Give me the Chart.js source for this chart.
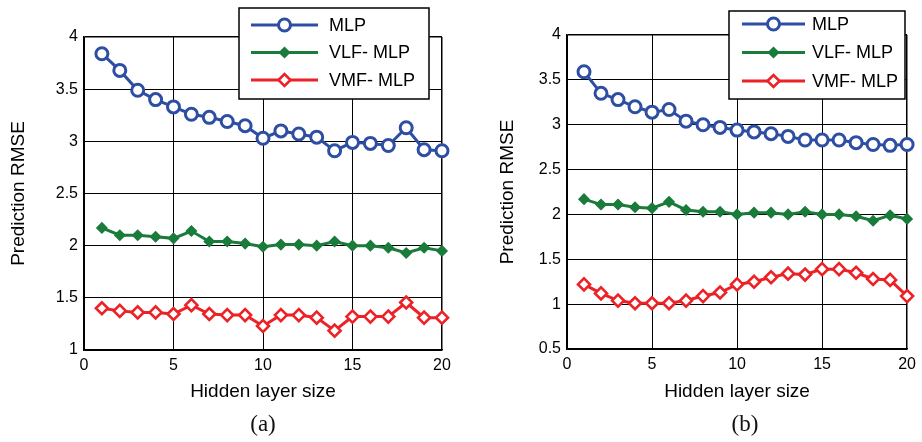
<!DOCTYPE html>
<html>
<head>
<meta charset="utf-8">
<script src="https://cdn.jsdelivr.net/npm/chart.js@4/dist/chart.umd.min.js"></script>
<style>
  body { margin: 0; background: #fff; }
  #wrap { position: relative; width: 922px; height: 442px; }
  canvas { position: absolute; top: 0; }
  .cap { position: absolute; top: 411px; font-family: "Liberation Serif", "Times New Roman", serif; font-size: 23px; transform: translateX(-50%); color: #111; }
</style>
</head>
<body>
<div id="wrap">
  <canvas id="chartA" width="460" height="442" style="left:0"></canvas>
  <canvas id="chartB" width="462" height="442" style="left:460px"></canvas>
  <div class="cap" style="left:263px">(a)</div>
  <div class="cap" style="left:745px">(b)</div>
</div>
<script>
// hidden layer sizes
const sizes = [1, 2, 3, 4, 5, 6, 7, 8, 9, 10, 11, 12, 13, 14, 15, 16, 17, 18, 19, 20];
const seriesNames = ['MLP', 'VLF- MLP', 'VMF- MLP'];

// (a)
const mlpA = [3.84, 3.68, 3.49, 3.40, 3.33, 3.26, 3.23, 3.19, 3.15, 3.03, 3.10, 3.07, 3.04, 2.91, 2.99, 2.98, 2.96, 3.13, 2.92, 2.91];
const vlfA = [2.17, 2.10, 2.10, 2.085, 2.07, 2.14, 2.04, 2.04, 2.02, 1.99, 2.01, 2.01, 2.00, 2.04, 2.00, 2.00, 1.98, 1.93, 1.98, 1.95];
const vmfA = [1.40, 1.375, 1.36, 1.36, 1.345, 1.43, 1.345, 1.335, 1.335, 1.23, 1.335, 1.335, 1.31, 1.185, 1.32, 1.32, 1.32, 1.455, 1.31, 1.31];

// (b)
const mlpB = [3.59, 3.35, 3.28, 3.20, 3.14, 3.17, 3.04, 3.00, 2.97, 2.94, 2.92, 2.90, 2.87, 2.83, 2.83, 2.83, 2.80, 2.78, 2.77, 2.78];
const vlfB = [2.17, 2.11, 2.11, 2.08, 2.07, 2.14, 2.05, 2.03, 2.03, 2.00, 2.02, 2.02, 2.00, 2.03, 2.00, 2.00, 1.98, 1.93, 1.99, 1.95];
const vmfB = [1.22, 1.12, 1.04, 1.01, 1.01, 1.01, 1.04, 1.09, 1.13, 1.22, 1.25, 1.30, 1.34, 1.33, 1.39, 1.39, 1.35, 1.28, 1.27, 1.09];

const blue = '#2d4ea3';
const green = '#1a7b3b';
const red = '#ec2227';
const font = '"Liberation Sans", Arial, Helvetica, sans-serif';

function pts(vals) {
  return sizes.map((s, i) => ({ x: s, y: vals[i] }));
}

function makeSets(mlp, vlf, vmf) {
  return [
    { label: seriesNames[0], data: pts(mlp), borderColor: blue, borderWidth: 3,
      pointStyle: 'circle', pointRadius: 6, pointBorderWidth: 3,
      pointBorderColor: blue, pointBackgroundColor: '#fff' },
    { label: seriesNames[1], data: pts(vlf), borderColor: green, borderWidth: 3,
      pointStyle: 'rectRot', pointRadius: 5, pointBorderWidth: 1.5,
      pointBorderColor: green, pointBackgroundColor: green },
    { label: seriesNames[2], data: pts(vmf), borderColor: red, borderWidth: 3,
      pointStyle: 'rectRot', pointRadius: 6, pointBorderWidth: 2.6,
      pointBorderColor: red, pointBackgroundColor: '#fff' }
  ].map(d => Object.assign(d, { clip: false, tension: 0, fill: false }));
}

// framed legend like the matlab one
const boxLegend = {
  id: 'boxLegend',
  afterDraw(chart, args, o) {
    const ctx = chart.ctx;
    ctx.save();
    ctx.fillStyle = '#fff';
    ctx.fillRect(o.x, o.y, o.w, o.h);
    ctx.strokeStyle = '#000';
    ctx.lineWidth = 1.5;
    ctx.strokeRect(o.x, o.y, o.w, o.h);
    chart.data.datasets.forEach((ds, i) => {
      const y = o.y + o.rowTop + i * o.rowGap;
      ctx.strokeStyle = ds.borderColor;
      ctx.lineWidth = 3;
      ctx.beginPath();
      ctx.moveTo(o.x + o.l0, y);
      ctx.lineTo(o.x + o.l1, y);
      ctx.stroke();
      ctx.fillStyle = ds.pointBackgroundColor;
      ctx.strokeStyle = ds.pointBorderColor;
      ctx.lineWidth = ds.pointBorderWidth;
      Chart.helpers.drawPoint(ctx, { pointStyle: ds.pointStyle, radius: ds.pointRadius, borderWidth: ds.pointBorderWidth, rotation: 0 }, o.x + (o.l0 + o.l1) / 2, y);
      ctx.fillStyle = '#000';
      ctx.font = '18px ' + font;
      ctx.textBaseline = 'middle';
      ctx.fillText(ds.label, o.x + o.tx, y + 1);
    });
    ctx.restore();
  }
};

function makeChart(id, sets, yMin, pad, yWidth, xHeight, yTitlePad, legend) {
  return new Chart(document.getElementById(id), {
    type: 'line',
    data: { datasets: sets },
    plugins: [boxLegend],
    options: {
      responsive: false,
      animation: false,
      layout: { padding: pad },
      plugins: { legend: { display: false }, tooltip: { enabled: false }, boxLegend: legend },
      scales: {
        x: {
          type: 'linear', min: 0, max: 20,
          ticks: { stepSize: 5, color: '#000', font: { family: font, size: 16 }, padding: 6, maxRotation: 0 },
          grid: { color: '#000', lineWidth: c => c.tick && c.tick.value === 20 ? 1.5 : 1, drawTicks: false },
          border: { color: '#000', width: 1.5 },
          title: { display: true, text: 'Hidden layer size', color: '#000', font: { family: font, size: 19 }, padding: { top: 0, bottom: 9 } },
          afterFit: s => { s.height = xHeight; }
        },
        y: {
          min: yMin, max: 4,
          ticks: { stepSize: 0.5, color: '#000', font: { family: font, size: 16 }, padding: 6, callback: v => String(v) },
          grid: { color: '#000', lineWidth: c => c.tick && c.tick.value === 4 ? 1.5 : 1, drawTicks: false },
          border: { color: '#000', width: 1.5 },
          title: { display: true, text: 'Prediction RMSE', color: '#000', font: { family: font, size: 19 }, padding: { top: yTitlePad, bottom: 0 } },
          afterFit: s => { s.width = yWidth; }
        }
      }
    }
  });
}

makeChart('chartA', makeSets(mlpA, vlfA, vmfA), 1,
  { top: 37, right: 18, bottom: 30, left: 0 }, 84, 62, 7,
  { x: 239, y: 8, w: 190, h: 91, rowTop: 17, rowGap: 27.5, l0: 12, l1: 79, tx: 90 });

makeChart('chartB', makeSets(mlpB, vlfB, vmfB), 0.5,
  { top: 35, right: 9, bottom: 30, left: 0 }, 107, 63, 36,
  { x: 269, y: 11, w: 176, h: 88, rowTop: 13, rowGap: 28.5, l0: 13, l1: 76, tx: 83 });
</script>
</body>
</html>
